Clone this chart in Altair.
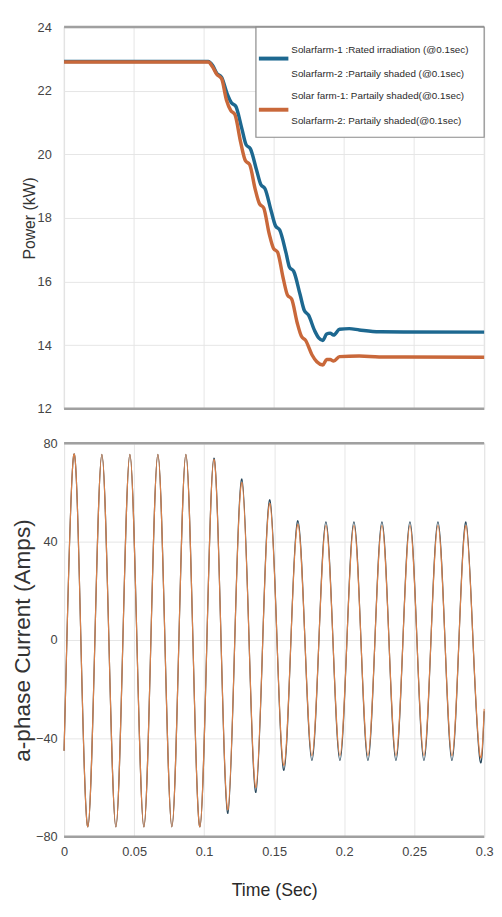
import altair as alt
import pandas as pd

# ---------------- data ----------------
# Top panel: power (kW)
pow_time_blue = [0.000, 0.103, 0.106, 0.109, 0.1125, 0.1165, 0.1195, 0.1225, 0.127, 0.130,
                 0.133, 0.1375, 0.1405, 0.1435, 0.148, 0.151, 0.154, 0.1585, 0.161, 0.164,
                 0.1685, 0.1715, 0.1745, 0.179, 0.182, 0.1848, 0.1875, 0.190, 0.1925, 0.1967,
                 0.2037, 0.2108, 0.225, 0.300]
pow_blue = [22.92, 22.92, 22.8, 22.55, 22.42, 21.9, 21.62, 21.52, 20.8, 20.3,
            20.18, 19.5, 19.05, 18.92, 18.2, 17.75, 17.62, 16.9, 16.45, 16.32,
            15.6, 15.1, 14.95, 14.45, 14.22, 14.15, 14.35, 14.38, 14.32, 14.5,
            14.52, 14.48, 14.42, 14.41]

pow_time_orange = [0.000, 0.103, 0.106, 0.109, 0.1125, 0.116, 0.119, 0.122, 0.126, 0.1295,
                   0.1325, 0.1365, 0.1395, 0.1425, 0.1465, 0.1495, 0.1525, 0.1565, 0.1595, 0.1625,
                   0.1665, 0.1695, 0.1725, 0.177, 0.1805, 0.1848, 0.1875, 0.190, 0.1925, 0.1967,
                   0.2108, 0.225, 0.300]
pow_orange = [22.9, 22.9, 22.75, 22.52, 22.38, 21.7, 21.38, 21.25, 20.4, 19.8,
              19.68, 18.9, 18.45, 18.32, 17.5, 17.05, 16.92, 16.1, 15.58, 15.45,
              14.7, 14.28, 14.15, 13.7, 13.48, 13.38, 13.55, 13.55, 13.5, 13.64,
              13.66, 13.63, 13.62]

# Bottom panel: a-phase current (A) - peaks, troughs and zero crossings
cur_time = [0.000, 0.002, 0.007, 0.012, 0.017, 0.022, 0.027, 0.032, 0.037, 0.042,
            0.047, 0.052, 0.057, 0.062, 0.067, 0.072, 0.077, 0.082, 0.087, 0.092,
            0.097, 0.102, 0.107, 0.112, 0.117, 0.122, 0.127, 0.132, 0.137, 0.142,
            0.147, 0.152, 0.157, 0.162, 0.167, 0.172, 0.177, 0.182, 0.187, 0.192,
            0.197, 0.202, 0.207, 0.212, 0.217, 0.222, 0.227, 0.232, 0.237, 0.242,
            0.247, 0.252, 0.257, 0.262, 0.267, 0.272, 0.277, 0.282, 0.287, 0.292,
            0.297, 0.300]
cur_orange = [-45, 0, 75.5, 0, -76, 0, 75.5, 0, -76, 0,
              75.5, 0, -76, 0, 75.5, 0, -76, 0, 75.5, 0,
              -76, 0, 73.5, 2, -69, 2, 64, 2, -60, 2,
              55.5, 1, -51, 0, 47, 0, -47, 0, 46.5, 0,
              -47, 0, 46.5, 0, -47, 0, 46.5, 0, -47, 0,
              46.5, 0, -47, 0, 46.5, 0, -47, 0, 46.5, 0,
              -47, -28]
cur_blue = [-45, 0, 75.5, 0, -76, 0, 75.5, 0, -76, 0,
            75.5, 0, -76, 0, 75.5, 0, -76, 0, 75.5, 0,
            -76, 0, 74, 2, -70.5, 2, 65.5, 2, -62, 2,
            57, 1, -53, 0, 48.5, 0, -49, 0, 48, 0,
            -49, 0, 48, 0, -49, 0, 48, 0, -49, 0,
            48, 0, -49, 0, 48, 0, -49, 0, 48, 0,
            -49, -29]

x_ticks = [0, 0.05, 0.1, 0.15, 0.2, 0.25, 0.3]
pow_ticks = [12, 14, 16, 18, 20, 22, 24]
cur_ticks = [-80, -40, 0, 40, 80]

legend_lines = ["Solarfarm-1 :Rated irradiation (@0.1sec)",
                "Solarfarm-2 :Partaily shaded (@0.1sec)",
                "Solar farm-1: Partaily shaded(@0.1sec)",
                "Solarfarm-2: Partaily shaded(@0.1sec)"]

# ---------------- style ----------------
BLUE = "#1d6890"
ORANGE = "#c9683a"
GRID = "#e6e6e6"
FRAME = "#a0a0a0"
W, H1, H2 = 427, 388, 400
SANS = "'Liberation Sans', Arial, sans-serif"

one = pd.DataFrame({"k": [0]})
xs = alt.Scale(domain=[0, 0.3], nice=False, zero=False)

# ---------------- top panel ----------------
df_pb = pd.DataFrame({"t": pow_time_blue, "v": pow_blue})
df_po = pd.DataFrame({"t": pow_time_orange, "v": pow_orange})
df_xt = pd.DataFrame({"t": x_ticks})

y_top = alt.Y("v:Q", scale=alt.Scale(domain=[12, 24], nice=False, zero=False),
              axis=alt.Axis(values=pow_ticks, ticks=False, domain=False, grid=True, gridColor=GRID,
                            labelFont=SANS, labelFontSize=13, labelColor="#444444", labelPadding=13,
                            labelFlush=False,
                            title="Power (kW)", titleFont=SANS, titleFontSize=16,
                            titleFontWeight="normal", titleColor="#333333", titlePadding=0))

top_grid = alt.Chart(df_xt).mark_rule(color=GRID, strokeWidth=1).encode(
    x=alt.X("t:Q", scale=xs, axis=None))
top_blue = alt.Chart(df_pb).mark_line(color=BLUE, strokeWidth=3.5, interpolate="monotone").encode(
    x=alt.X("t:Q", scale=xs, axis=None), y=y_top)
top_orange = alt.Chart(df_po).mark_line(color=ORANGE, strokeWidth=3.5, interpolate="monotone").encode(
    x="t:Q", y="v:Q")

def hrule(y):
    return alt.Chart(one).mark_rule(color=FRAME, strokeWidth=2.5).encode(
        x=alt.value(0), x2=alt.value(W), y=alt.value(y))

leg_box = alt.Chart(one).mark_rect(fill="white", stroke="#8a8a8a", strokeWidth=1.2).encode(
    x=alt.value(195), x2=alt.value(W), y=alt.value(0), y2=alt.value(112))
leg_sym_b = alt.Chart(one).mark_rule(color=BLUE, strokeWidth=4).encode(
    x=alt.value(198), x2=alt.value(228), y=alt.value(32))
leg_sym_o = alt.Chart(one).mark_rule(color=ORANGE, strokeWidth=4).encode(
    x=alt.value(198), x2=alt.value(228), y=alt.value(84))
leg_txt = []
for txt, yy in zip(legend_lines, [23, 48, 70, 95]):
    leg_txt.append(alt.Chart(one).mark_text(text=txt, align="left", baseline="middle",
                                            font=SANS, fontSize=10, color="#2a2a2a").encode(
        x=alt.value(231), y=alt.value(yy)))

top = alt.layer(top_grid, top_blue, top_orange, hrule(0), hrule(H1),
                leg_box, leg_sym_b, leg_sym_o, *leg_txt).properties(width=W, height=H1)

# ---------------- bottom panel ----------------
df_cb = pd.DataFrame({"t": cur_time, "v": cur_blue})
df_co = pd.DataFrame({"t": cur_time, "v": cur_orange})

x_bot = alt.X("t:Q", scale=xs,
              axis=alt.Axis(values=x_ticks, ticks=False, domain=False, grid=True, gridColor=GRID,
                            format="~g", labelFont=SANS, labelFontSize=13, labelColor="#444444",
                            labelPadding=9, labelFlush=False,
                            title="Time (Sec)", titleFont=SANS, titleFontSize=18,
                            titleFontWeight="normal", titleColor="#2a2a2a", titlePadding=24))
y_bot = alt.Y("v:Q", scale=alt.Scale(domain=[-80, 80], nice=False, zero=False),
              axis=alt.Axis(values=cur_ticks, ticks=False, domain=False, grid=True, gridColor=GRID,
                            labelFont=SANS, labelFontSize=13, labelColor="#444444", labelPadding=7,
                            labelFlush=False,
                            title="a-phase Current (Amps)", titleFont=SANS, titleFontSize=23,
                            titleFontWeight="normal", titleColor="#333333", titlePadding=1))

bot_blue = alt.Chart(df_cb).mark_line(color="#26465a", strokeWidth=1.2, interpolate="natural").encode(
    x=x_bot, y=y_bot)
bot_orange = alt.Chart(df_co).mark_line(color="#d9804a", strokeWidth=1.2, interpolate="natural").encode(
    x="t:Q", y="v:Q")

bottom = alt.layer(bot_blue, bot_orange, hrule(0), hrule(H2)).properties(width=W, height=H2)

chart = alt.vconcat(top, bottom, spacing=20).properties(
    padding={"left": 3, "top": 5, "right": 0, "bottom": 0}
).configure_view(stroke="#a0a0a0", strokeWidth=1.2).configure(background="white")

chart.save("out.html", embed_options={"renderer": "svg", "actions": False})
